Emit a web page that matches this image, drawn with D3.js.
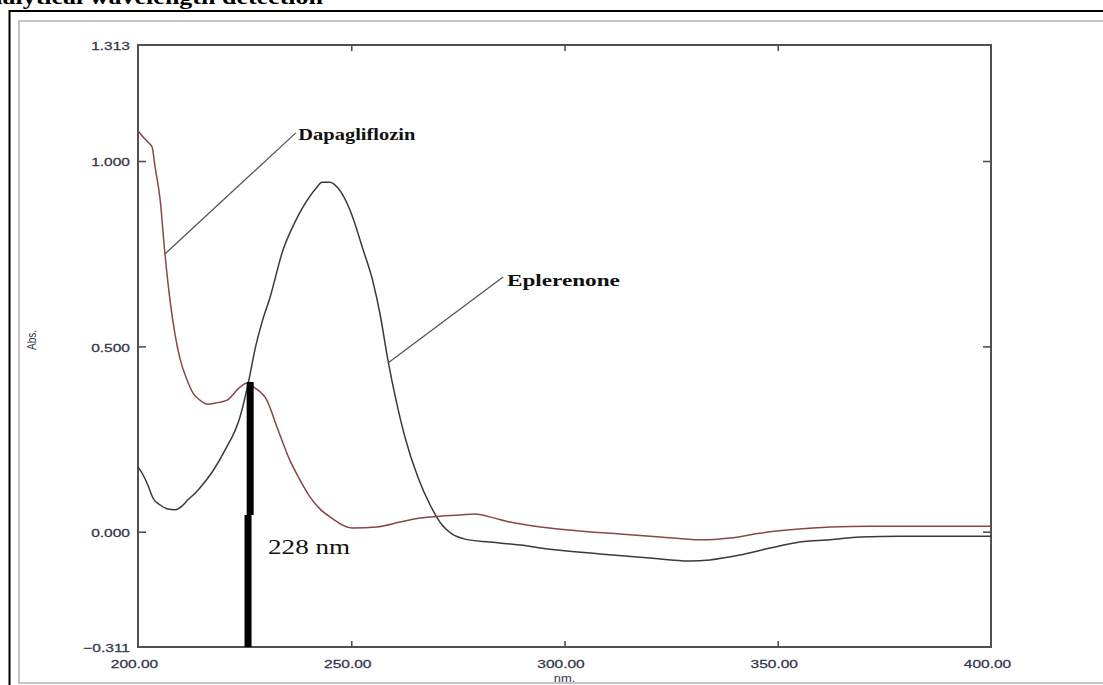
<!DOCTYPE html>
<html>
<head>
<meta charset="utf-8">
<script src="https://cdn.jsdelivr.net/npm/d3@7"></script>
<style>
  body { margin: 0; background: #fff; }
  svg { display: block; }
</style>
</head>
<body>
<script>
// Eplerenone spectrum (nm, Abs.)
var eplWl  = [200.0, 201.2, 202.3, 203.5, 205.2, 207.0, 208.7, 210.3, 211.7, 213.4, 214.5, 217.4, 220.4, 223.9, 226.0, 227.4, 229.1, 230.9, 234.0, 236.8, 238.7, 242.0, 243.1, 245.0, 246.9, 249.7, 252.8, 255.1, 256.7, 258.6, 260.5, 262.6, 265.7, 268.5, 271.3, 273.6, 276.7, 282.5, 289.6, 296.6, 308.3, 320.0, 329.4, 334.1, 341.1, 348.2, 355.2, 362.3, 369.3, 378.7, 400.0];
var eplAbs = [0.175, 0.153, 0.126, 0.091, 0.072, 0.061, 0.059, 0.069, 0.086, 0.104, 0.118, 0.161, 0.220, 0.309, 0.409, 0.490, 0.566, 0.630, 0.760, 0.835, 0.876, 0.930, 0.943, 0.943, 0.927, 0.868, 0.760, 0.674, 0.590, 0.463, 0.355, 0.255, 0.145, 0.072, 0.018, -0.006, -0.020, -0.028, -0.036, -0.047, -0.060, -0.071, -0.079, -0.076, -0.063, -0.044, -0.028, -0.022, -0.014, -0.012, -0.012];

// Dapagliflozin spectrum (nm, Abs.)
var dapWl  = [200.0, 201.2, 202.3, 203.3, 204.0, 205.2, 206.3, 207.5, 208.7, 209.8, 211.5, 212.9, 214.5, 216.4, 218.1, 220.9, 223.9, 225.6, 227.4, 230.2, 232.6, 235.6, 238.0, 240.3, 242.7, 245.0, 250.4, 256.0, 261.4, 266.1, 270.8, 275.5, 279.0, 282.5, 287.2, 294.3, 303.6, 313.0, 322.4, 331.8, 338.8, 345.8, 352.9, 362.3, 371.6, 383.4, 400.0];
var dapAbs = [1.081, 1.065, 1.051, 1.038, 0.984, 0.895, 0.752, 0.625, 0.531, 0.469, 0.409, 0.374, 0.355, 0.344, 0.347, 0.355, 0.390, 0.401, 0.388, 0.355, 0.282, 0.193, 0.139, 0.094, 0.061, 0.040, 0.010, 0.013, 0.026, 0.037, 0.042, 0.045, 0.048, 0.040, 0.026, 0.013, 0.002, -0.006, -0.014, -0.022, -0.017, -0.004, 0.005, 0.013, 0.015, 0.015, 0.015];

// axes
var xDomain = [200, 400];
var yDomain = [-0.311, 1.313];
var xLabelTicks = [200, 250, 300, 350, 400];
var xMarkTicks = [250, 300, 350];
var yLabelTicks = [1.313, 1.000, 0.500, 0.000, -0.311];
var yMarkTicks = [1.0, 0.5, 0.0];

// 228 nm marker bar: two pieces [wl, top, bottom]
var markerWl = [226.3, 225.8];
var markerTop = [0.404, 0.045];
var markerBottom = [0.045, -0.311];

var width = 1103, height = 685;

var svg = d3.select("body").append("svg")
    .attr("width", width)
    .attr("height", height);

// page frames (title is clipped by the top edge, as in the source)
svg.append("text")
    .attr("transform", "translate(323,4) scale(1.3,1)")
    .attr("text-anchor", "end")
    .style("font", "bold 20px 'Liberation Serif'")
    .attr("fill", "#000")
    .text("Analytical wavelength detection");

svg.append("rect")
    .attr("x", 19).attr("y", 21)
    .attr("width", 1100).attr("height", 662)
    .attr("fill", "#fff")
    .attr("stroke", "#c4c4c4")
    .attr("stroke-width", 2);

svg.append("line")
    .attr("x1", 9).attr("y1", 11).attr("x2", 1103).attr("y2", 11)
    .attr("stroke", "#000").attr("stroke-width", 2);
svg.append("line")
    .attr("x1", 9.5).attr("y1", 10).attr("x2", 9.5).attr("y2", 685)
    .attr("stroke", "#000").attr("stroke-width", 2);

var x = d3.scaleLinear().domain(xDomain).range([138, 991]);
var y = d3.scaleLinear().domain(yDomain).range([647, 45]);

var plot = svg.append("g");

// tick marks, inward on all four sides
function markAxis(axis, tx, ty) {
    var g = plot.append("g")
        .attr("transform", "translate(" + tx + "," + ty + ")")
        .call(axis);
    g.select(".domain").remove();
    g.selectAll("line").attr("stroke", "#505050").attr("stroke-width", 1.6);
}
markAxis(d3.axisLeft(y).tickValues(yMarkTicks).tickSize(-8).tickFormat(""), 138, 0);
markAxis(d3.axisRight(y).tickValues(yMarkTicks).tickSize(-8).tickFormat(""), 991, 0);
markAxis(d3.axisTop(x).tickValues(xMarkTicks).tickSize(-6).tickFormat(""), 0, 45);
markAxis(d3.axisBottom(x).tickValues(xMarkTicks).tickSize(-6).tickFormat(""), 0, 647);

// tick labels
var yl = plot.append("g")
    .attr("transform", "translate(138,0)")
    .call(d3.axisLeft(y).tickValues(yLabelTicks).tickSize(0).tickFormat(d3.format(".3f")));
yl.select(".domain").remove();
yl.selectAll("text")
    .attr("x", 0)
    .attr("transform", "translate(-8,1) scale(1.35,1)")
    .attr("fill", "#34344a")
    .attr("stroke", "#34344a")
    .attr("stroke-width", 0.25)
    .style("font", "11.5px 'Liberation Sans'");

var xl = plot.append("g")
    .attr("transform", "translate(0,647)")
    .call(d3.axisBottom(x).tickValues(xLabelTicks).tickSize(0).tickFormat(d3.format(".2f")));
xl.select(".domain").remove();
xl.selectAll("text")
    .attr("y", 0).attr("dy", null)
    .attr("transform", "translate(-4,21) scale(1.35,1)")
    .attr("fill", "#34344a")
    .attr("stroke", "#34344a")
    .attr("stroke-width", 0.25)
    .style("font", "11.5px 'Liberation Sans'");

svg.append("text")
    .attr("transform", "translate(36,340) rotate(-90) scale(1,1.3)")
    .attr("text-anchor", "middle")
    .attr("fill", "#34344a")
    .style("font", "10px 'Liberation Sans'")
    .text("Abs.");

svg.append("text")
    .attr("transform", "translate(" + x(300) + ",682) scale(1.3,1)")
    .attr("text-anchor", "middle")
    .attr("fill", "#34344a")
    .style("font", "10px 'Liberation Sans'")
    .text("nm.");

// plot frame
plot.append("rect")
    .attr("x", x(xDomain[0])).attr("y", y(yDomain[1]))
    .attr("width", x(xDomain[1]) - x(xDomain[0]))
    .attr("height", y(yDomain[0]) - y(yDomain[1]))
    .attr("fill", "none")
    .attr("stroke", "#505050")
    .attr("stroke-width", 2);

// spectra
var line = d3.line()
    .x(function(d){ return x(d[0]); })
    .y(function(d){ return y(d[1]); })
    .curve(d3.curveMonotoneX);

plot.append("path")
    .datum(d3.zip(eplWl, eplAbs))
    .attr("d", line)
    .attr("fill", "none")
    .attr("stroke", "#3a3a3a")
    .attr("stroke-width", 1.5);

plot.append("path")
    .datum(d3.zip(dapWl, dapAbs))
    .attr("d", line)
    .attr("fill", "none")
    .attr("stroke", "#8a4646")
    .attr("stroke-width", 1.5);

// 228 nm marker
plot.selectAll(".marker")
    .data(d3.range(markerWl.length))
    .enter().append("rect")
    .attr("class", "marker")
    .attr("x", function(i){ return x(markerWl[i]) - 3.5; })
    .attr("y", function(i){ return y(markerTop[i]); })
    .attr("width", 7)
    .attr("height", function(i){ return y(markerBottom[i]) - y(markerTop[i]); })
    .attr("fill", "#000");

// annotations
var notes = [
    { text: "Dapagliflozin", from: [206.3, 0.749], to: [237.0, 1.076], at: [237.6, 1.057], len: 117 },
    { text: "Eplerenone",    from: [258.6, 0.455], to: [285.6, 0.687], at: [286.5, 0.663], len: 113 }
];
notes.forEach(function(n){
    plot.append("line")
        .attr("x1", x(n.from[0])).attr("y1", y(n.from[1]))
        .attr("x2", x(n.to[0])).attr("y2", y(n.to[1]))
        .attr("stroke", "#555")
        .attr("stroke-width", 1.3);
    plot.append("text")
        .attr("x", x(n.at[0])).attr("y", y(n.at[1]))
        .attr("textLength", n.len)
        .attr("lengthAdjust", "spacingAndGlyphs")
        .attr("fill", "#111")
        .style("font", "bold 17px 'Liberation Serif'")
        .text(n.text);
});

plot.append("text")
    .attr("x", x(230.5)).attr("y", y(-0.060))
    .attr("textLength", 82)
    .attr("lengthAdjust", "spacingAndGlyphs")
    .attr("fill", "#111")
    .style("font", "21px 'Liberation Serif'")
    .text("228 nm");
</script>
</body>
</html>
